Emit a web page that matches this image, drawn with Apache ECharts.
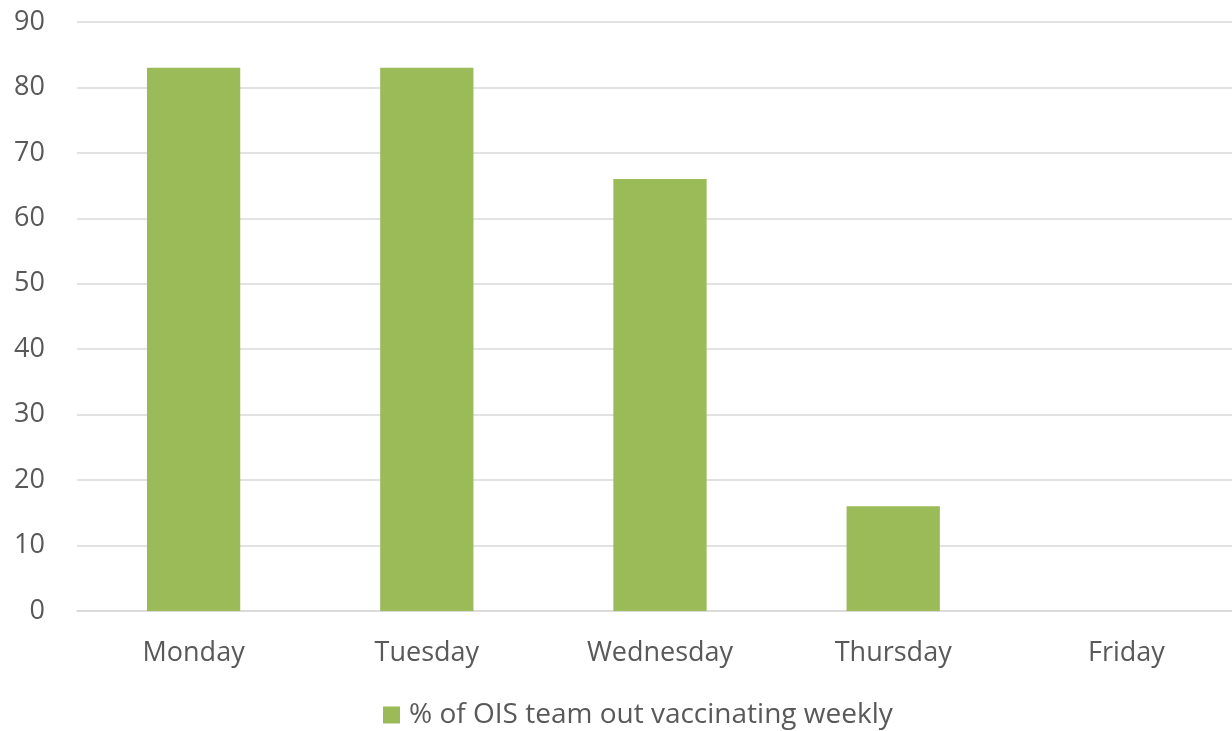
<!DOCTYPE html>
<html><head><meta charset="utf-8">
<script src="https://cdn.jsdelivr.net/npm/echarts@6/dist/echarts.min.js"></script>
<style>html,body{margin:0;padding:0;background:#fff}#c{width:1232px;height:731px}</style>
</head><body><div id="c"></div>
<script>
const categories = ['Monday','Tuesday','Wednesday','Thursday','Friday'];
const seriesName = '% of OIS team out vaccinating weekly';
const values = [83, 83, 66, 16, 0];
const yTicks = {min:0, max:90, interval:10};

const chart = echarts.init(document.getElementById('c'));
const font = "'Open Sans', 'Liberation Sans', sans-serif";
chart.setOption({
  animation:false,
  grid:{left:77, top:22, width:1166, height:589, containLabel:false, outerBoundsMode:'none'},
  legend:{
    data:[seriesName], left:383, top:701, padding:0, itemWidth:17, itemHeight:17, itemGap:8,
    icon:'rect',
    textStyle:{color:'#595959', fontSize:28, fontFamily:font, padding:[0,0,0,4]}
  },
  xAxis:{
    type:'category', data:categories,
    axisLine:{lineStyle:{color:'#d9d9d9', width:1.5}},
    axisTick:{show:false},
    axisLabel:{color:'#595959', fontSize:27, fontFamily:font, margin:29}
  },
  yAxis:{
    type:'value', min:yTicks.min, max:yTicks.max, interval:yTicks.interval,
    axisLine:{show:false}, axisTick:{show:false},
    splitLine:{lineStyle:{color:'#d9d9d9', width:1.5}},
    axisLabel:{color:'#595959', fontSize:27, fontFamily:font, margin:32}
  },
  series:[{
    name:seriesName, type:'bar', data:values, barWidth:'40%',
    itemStyle:{color:'#9BBB59'}
  }]
});
</script></body></html>
